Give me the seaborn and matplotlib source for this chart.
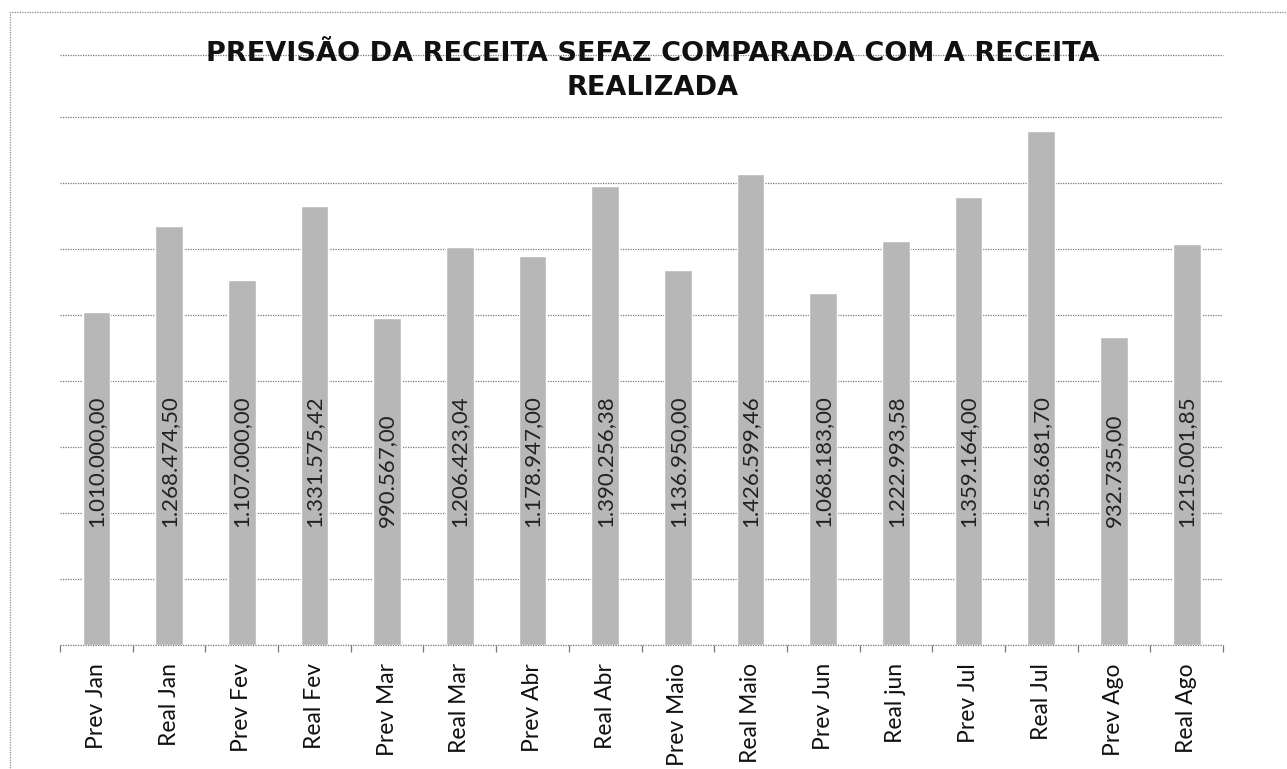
import matplotlib
matplotlib.use('Agg')
import matplotlib.pyplot as plt
import matplotlib.patches as patches
import seaborn as sns

# chart data
categories = ['Prev Jan', 'Real Jan', 'Prev Fev', 'Real Fev', 'Prev Mar', 'Real Mar',
              'Prev Abr', 'Real Abr', 'Prev Maio', 'Real Maio', 'Prev Jun', 'Real jun',
              'Prev Jul', 'Real Jul', 'Prev Ago', 'Real Ago']
values = [1010000.00, 1268474.50, 1107000.00, 1331575.42, 990567.00, 1206423.04,
          1178947.00, 1390256.38, 1136950.00, 1426599.46, 1068183.00, 1222993.58,
          1359164.00, 1558681.70, 932735.00, 1215001.85]
value_labels = ['1.010.000,00', '1.268.474,50', '1.107.000,00', '1.331.575,42', '990.567,00',
                '1.206.423,04', '1.178.947,00', '1.390.256,38', '1.136.950,00', '1.426.599,46',
                '1.068.183,00', '1.222.993,58', '1.359.164,00', '1.558.681,70', '932.735,00',
                '1.215.001,85']
title = 'PREVISÃO DA RECEITA SEFAZ COMPARADA COM A RECEITA\nREALIZADA'

sns.set_style('white')
plt.rcParams['font.family'] = ['Lato', 'DejaVu Sans']

fig = plt.figure(figsize=(12.87, 7.69), dpi=100)
ax = fig.add_axes([0.0466, 0.16125, 0.9037, 0.7672])

sns.barplot(x=categories, y=values, color='#b7b7b7', saturation=1, width=0.38, ax=ax, zorder=2)

grid_style = dict(color='#7a7a7a', linewidth=0.9, linestyle=(0, (1, 1)))
y_top = 1788000
ax.set_ylim(0, y_top)
ax.set_xlim(-0.5, len(categories) - 0.5)
ax.set_yticks(range(0, 1600001, 200000))
ax.set_yticklabels([])
ax.tick_params(axis='y', length=0)
ax.yaxis.grid(True, zorder=0, **grid_style)
ax.set_axisbelow(True)
for side in ['right', 'left', 'top', 'bottom']:
    ax.spines[side].set_visible(False)
# plot area border lines (top and base), drawn like the grid
ax.axhline(y_top, clip_on=False, zorder=1, **grid_style)
ax.axhline(0, clip_on=False, zorder=3, **grid_style)

# tick marks sit between the categories, labels are centred on the bars
ax.set_xticks(range(len(categories)))
ax.set_xticklabels(categories, rotation=90, fontsize=16.5, color='#111111')
ax.tick_params(axis='x', which='major', length=0, pad=13)
ax.set_xticks([i - 0.5 for i in range(len(categories) + 1)], minor=True)
ax.tick_params(axis='x', which='minor', bottom=True, length=5, width=0.9,
               color='#7a7a7a', direction='out')
ax.set_xlabel('')
ax.set_ylabel('')

# value labels inside the bars, starting near the base
for i, lbl in enumerate(value_labels):
    ax.text(i, 358000, lbl, rotation=90, ha='center', va='bottom',
            fontsize=16, color='#222222', zorder=3)

fig.text(0.507, 0.9076, title, ha='center', va='center', fontsize=19.5,
         fontweight='bold', family='DejaVu Sans', linespacing=1.42, color='#111111')

# dotted frame of the scanned chart area
frame = patches.Rectangle((10 / 1287, -0.05), 1.2, 1 - 12 / 769 + 0.05,
                          transform=fig.transFigure, fill=False,
                          edgecolor='#8a8a8a', linewidth=0.9, linestyle=(0, (1, 1)))
fig.patches.append(frame)

fig.savefig('out.png', dpi=100)
